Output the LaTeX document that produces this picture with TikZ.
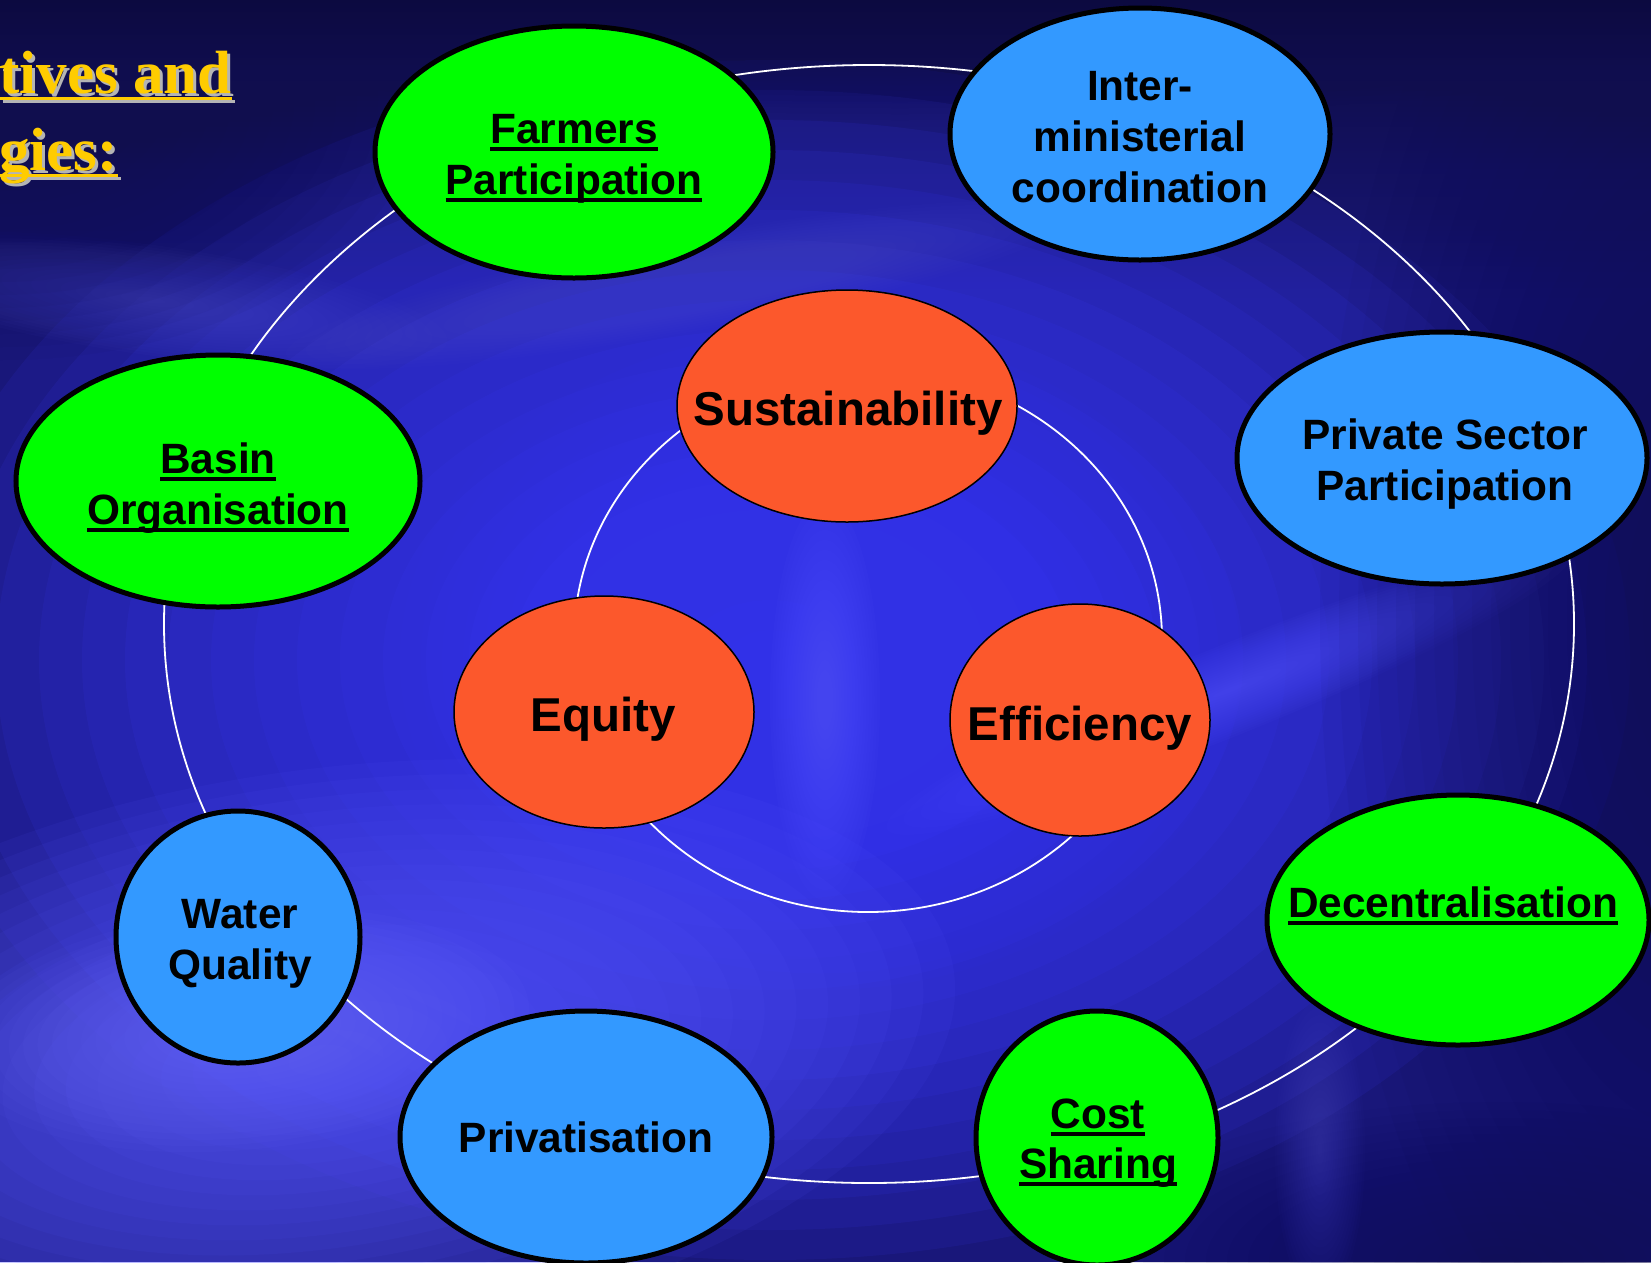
\documentclass[tikz,border=0pt]{standalone}
\usepackage{fontspec}
\usetikzlibrary{shapes.geometric}
\newfontfamily\sansb{Liberation Sans}
\newfontfamily\serifb{Liberation Serif}
\newcommand\outerfont{\sansb\bfseries\fontsize{42.4pt}{51pt}\selectfont}
\newcommand\innerfont{\sansb\bfseries\fontsize{47.5pt}{57pt}\selectfont}
\newcommand\titlefont{\serifb\bfseries\fontsize{61pt}{73pt}\selectfont}
\newcommand\myul[1]{\setbox0\hbox{#1}\rlap{\vrule width\wd0 height -3.5pt depth 8pt}\box0}
\newcommand\myult[1]{\setbox0\hbox{#1}\rlap{\vrule width\wd0 height -4pt depth 6.8pt}\box0}
% glow: colour, opacity step, cx, cy, rx, ry, angle
\newcommand\glow[7]{\foreach \k in {1,...,20}{\fill[#1, opacity=#2, rotate around={#7:(#3,#4)}] (#3,#4) ellipse [x radius={#5/20*\k}, y radius={#6/20*\k}];}}
\definecolor{bgbase}{HTML}{19177A}
\definecolor{bgtop}{HTML}{0C0A40}
\definecolor{bgdeep}{HTML}{100E4E}
\definecolor{glowblue}{HTML}{3A3AF8}
\definecolor{glowlight}{HTML}{5858FF}
\definecolor{glowpale}{HTML}{7070FF}
\definecolor{swirl}{HTML}{4A4ACC}
\definecolor{streak}{HTML}{5454FF}
\definecolor{nodegreen}{HTML}{00FF00}
\definecolor{nodeblue}{HTML}{3399FF}
\definecolor{nodeorange}{HTML}{FC582C}
\definecolor{titleyellow}{HTML}{FFCC00}
\definecolor{titleshadow}{HTML}{B4B4B4}
\tikzset{
  outerell/.style={ellipse, draw=black, line width=5pt, inner sep=0pt},
  innerell/.style={ellipse, draw=black, line width=1.5pt, fill=nodeorange, inner sep=0pt},
  olbl/.style={font=\outerfont, anchor=base, inner sep=0pt, text=black},
  ilbl/.style={font=\innerfont, anchor=base, inner sep=0pt, text=black},
  ttl/.style={font=\titlefont, anchor=base east, inner sep=0pt},
  ring/.style={draw=white, line width=1.8pt},
}
\begin{document}
\begin{tikzpicture}[x=1pt,y=-1pt]
\useasboundingbox (0,0) rectangle (1651,1262);
\clip (0,0) rectangle (1651,1262);
% background
\fill[bgbase] (0,0) rectangle (1651,1262);
\shade[top color=bgtop, bottom color=bgbase] (0,0) rectangle (1651,300);
\glow{glowblue}{0.11}{770}{660}{860}{600}{0}
\glow{glowblue}{0.05}{820}{660}{420}{330}{0}
\glow{glowlight}{0.08}{320}{1060}{640}{290}{8}
\glow{glowpale}{0.05}{240}{1030}{290}{120}{5}
\glow{swirl}{0.05}{150}{300}{300}{55}{-8}
\glow{swirl}{0.045}{680}{285}{400}{48}{10}
\glow{streak}{0.06}{825}{700}{55}{200}{0}
\glow{streak}{0.05}{1230}{690}{370}{45}{22}
\glow{bgdeep}{0.05}{1700}{620}{380}{850}{0}
\glow{bgdeep}{0.05}{0}{100}{420}{260}{0}
\glow{bgdeep}{0.04}{1500}{1262}{420}{160}{0}
\glow{bgdeep}{0.04}{900}{0}{900}{120}{0}
\glow{swirl}{0.03}{1320}{1150}{45}{150}{0}
% rings
\draw[ring] (869,624) ellipse [x radius=705, y radius=559];
\draw[ring] (868,640) ellipse [x radius=294, y radius=272];
% outer nodes
\node[outerell, fill=nodegreen, minimum width=398pt, minimum height=252pt] (farmers) at (574,152) {};
\node[outerell, fill=nodeblue, minimum width=380pt, minimum height=252pt] (inter) at (1140,134) {};
\node[outerell, fill=nodeblue, minimum width=410pt, minimum height=252pt] (private) at (1442,458) {};
\node[outerell, fill=nodegreen, minimum width=404pt, minimum height=252pt] (basin) at (218,481) {};
\node[outerell, fill=nodeblue, minimum width=244pt, minimum height=252pt] (water) at (238,937) {};
\node[outerell, fill=nodeblue, minimum width=372pt, minimum height=252pt] (privat) at (586,1137) {};
\node[outerell, fill=nodegreen, minimum width=242pt, minimum height=254pt] (cost) at (1097,1138) {};
\node[outerell, fill=nodegreen, minimum width=382pt, minimum height=250pt] (decent) at (1458,920) {};
% inner nodes
\node[innerell, minimum width=340pt, minimum height=232pt] (sustain) at (847,406) {};
\node[innerell, minimum width=300pt, minimum height=232pt] (equity) at (604,712) {};
\node[innerell, minimum width=260pt, minimum height=232pt] (effic) at (1080,720) {};
% labels
\node[olbl] (farmers1) at (574,143) {\myul{Farmers}};
\node[olbl] (farmers2) at (574,194) {\myul{Participation}};
\node[olbl] (inter1) at (1140,100) {Inter-};
\node[olbl] (inter2) at (1140,151) {ministerial};
\node[olbl] (inter3) at (1140,202) {coordination};
\node[olbl] (private1) at (1445,449) {Private Sector};
\node[olbl] (private2) at (1445,500) {Participation};
\node[olbl] (basin1) at (218,473) {\myul{Basin}};
\node[olbl] (basin2) at (218,524) {\myul{Organisation}};
\node[olbl] (water1) at (240,928) {Water};
\node[olbl] (water2) at (240,979) {Quality};
\node[olbl] (privat1) at (586,1152) {Privatisation};
\node[olbl] (cost1) at (1098,1128) {\myul{Cost}};
\node[olbl] (cost2) at (1098,1178) {\myul{Sharing}};
\node[olbl] (decent1) at (1453,917) {\myul{Decentralisation}};
\node[ilbl] (sustain1) at (848,425) {Sustainability};
\node[ilbl] (equity1) at (603,731) {Equity};
\node[ilbl] (effic1) at (1080,740) {Efficiency};
% title
\node[ttl, text=titleshadow] (title1s) at (235,96) {\myult{tives and}};
\node[ttl, text=titleyellow] (title1) at (232,93) {\myult{tives and}};
\node[ttl, text=titleshadow] (title2s) at (121,173) {\myult{gies:}};
\node[ttl, text=titleyellow] (title2) at (118,170) {\myult{gies:}};
\end{tikzpicture}
\end{document}
